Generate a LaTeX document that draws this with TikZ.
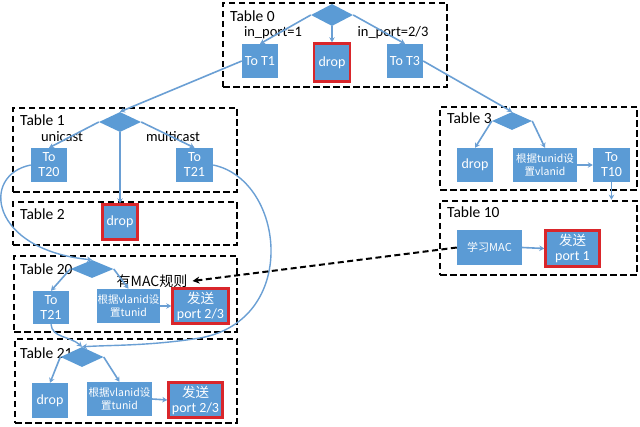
\documentclass[tikz,border=0pt]{standalone}
\usepackage{fontspec}
\setmainfont{Carlito}
\newfontfamily\cjk{Noto Sans CJK SC}
\usetikzlibrary{shapes.geometric,arrows.meta}
\definecolor{bblue}{HTML}{5B9BD5}
\definecolor{lblue}{HTML}{6A9FD4}
\definecolor{rred}{HTML}{D9262B}
\tikzset{
 tbl/.style={draw=black, line width=2.6pt, dash pattern=on 6.5pt off 3.5pt, inner sep=0},
 bx/.style={fill=bblue, text=white, inner sep=0.5pt, align=center, font=\fontsize{14}{15}\selectfont},
 rbx/.style={bx, draw=rred, line width=2.4pt},
 dm/.style={diamond, fill=bblue, inner sep=0, minimum width=42pt, minimum height=20pt},
 conn/.style={draw=lblue, line width=1.6pt, -{Stealth[length=5pt,width=5.5pt]}},
 curv/.style={draw=lblue, line width=1.4pt, -{Stealth[length=5pt,width=5.5pt]}},
 lab/.style={font=\fontsize{14.5}{15}\selectfont, inner sep=0},
 tlab/.style={font=\fontsize{15.5}{16}\selectfont, anchor=west, inner sep=0},
 sm/.style={font=\cjk\fontsize{10.5}{13}\selectfont},
}
\begin{document}
\begin{tikzpicture}[x=1pt,y=-1pt]
\useasboundingbox[fill=white] (0,0) rectangle (640,427);
% ---- tables
\node[tbl, minimum width=224pt, minimum height=84pt] (tab0) at (335,45) {};
\node[tbl, minimum width=224pt, minimum height=84pt] (tab1) at (125,150) {};
\node[tbl, minimum width=224pt, minimum height=43pt] (tab2) at (125,223.5) {};
\node[tbl, minimum width=223pt, minimum height=76pt] (tab20) at (125.5,294) {};
\node[tbl, minimum width=222pt, minimum height=84pt] (tab21) at (126,381) {};
\node[tbl, minimum width=197pt, minimum height=83pt] (tab3) at (538.5,148.5) {};
\node[tbl, minimum width=197pt, minimum height=74pt] (tab10) at (538.5,238) {};
\node[tlab] (l0) at (230,16) {Table 0};
\node[tlab] (l1) at (20,120) {Table 1};
\node[tlab] (l2) at (20,214) {Table 2};
\node[tlab] (l20) at (20,269) {Table 20};
\node[tlab] (l21) at (20,353) {Table 21};
\node[tlab] (l3) at (447,118) {Table 3};
\node[tlab] (l10) at (447,212) {Table 10};
% ---- Table 0
\node[dm, minimum width=42pt, minimum height=22pt] (d0) at (332,15) {};
\node[bx, minimum width=36pt, minimum height=34pt] (t1) at (260,61) {To T1};
\node[rbx, minimum width=36pt, minimum height=38pt] (dr0) at (332,62.5) {drop};
\node[bx, minimum width=36pt, minimum height=34pt] (t3) at (405,61) {To T3};
\node[lab] (ip1) at (273,33) {in\_port=1};
\node[lab] (ip2) at (393,33) {in\_port=2/3};
\draw[conn] (d0.west) -- (t1.north);
\draw[conn] (d0.south) -- (dr0.north);
\draw[conn] (d0.east) -- (t3.north);
% ---- Table 1
\node[dm] (d1) at (120,122) {};
\node[bx, minimum width=36pt, minimum height=34pt] (t20) at (49,165) {To\\T20};
\node[bx, minimum width=37pt, minimum height=34pt] (t21) at (194.5,165) {To\\T21};
\node[lab] (uc) at (62,137) {unicast};
\node[lab] (mc) at (173,137) {multicast};
\draw[conn] (t1.west) -- (d1.north);
\draw[conn] (d1.west) -- (t20.north);
\draw[conn] (d1.east) -- (t21.north);
% ---- Table 2
\node[rbx, minimum width=35pt, minimum height=35pt] (dr2) at (120,222) {drop};
\draw[conn] (d1.south) -- (dr2.north);
% ---- Table 20
\node[dm, minimum width=43pt, minimum height=18pt] (d20) at (92,269) {};
\node[bx, minimum width=36pt, minimum height=33pt] (t21b) at (51,307.5) {To\\T21};
\node[bx, sm, minimum width=63pt, minimum height=34pt] (v20) at (128.5,306) {根据vlanid设\\置tunid};
\node[rbx, minimum width=56pt, minimum height=35pt] (s20) at (200.5,306) {{\cjk\fontsize{13.5}{15}\selectfont 发送}\\port 2/3};
\node[lab, font=\cjk\fontsize{14}{15}\selectfont] (mac) at (152,281) {有MAC规则};
\draw[conn] (d20.west) -- (t21b.north);
\draw[conn] (d20.east) -- (v20.north);
\draw[conn] (v20.east) -- (s20.west);
% ---- Table 21
\node[dm, minimum width=43pt, minimum height=20pt] (d21) at (82,357) {};
\node[bx, minimum width=36pt, minimum height=35pt] (dr21) at (50,400.5) {drop};
\node[bx, sm, minimum width=65pt, minimum height=34pt] (v21) at (119.5,399) {根据vlanid设\\置tunid};
\node[rbx, minimum width=54pt, minimum height=35pt] (s21) at (195.5,400) {{\cjk\fontsize{13.5}{15}\selectfont 发送}\\port 2/3};
\draw[conn] (d21.west) -- (dr21.north);
\draw[conn] (d21.east) -- (v21.north);
\draw[conn] (v21.east) -- (s21.west);
% ---- Table 3
\node[dm, minimum width=40pt, minimum height=18pt] (d3) at (512,121) {};
\node[bx, minimum width=36pt, minimum height=34pt] (dr3) at (475,165) {drop};
\node[bx, sm, minimum width=64pt, minimum height=34pt] (v3) at (545,165) {根据tunid设\\置vlanid};
\node[bx, minimum width=37pt, minimum height=34pt] (t10) at (611.5,165) {To\\T10};
\draw[conn] (t3.east) -- (d3.north);
\draw[conn] (d3.west) -- (dr3.north);
\draw[conn] (d3.east) -- (v3.north);
\draw[conn] (v3.east) -- (t10.west);
\draw[conn, line width=1pt] (t10.south) -- (t10.south |- tab10.north);
% ---- Table 10
\node[bx, font=\cjk\fontsize{11}{13}\selectfont, minimum width=65pt, minimum height=35pt] (learn) at (489.5,247.5) {学习MAC};
\node[rbx, minimum width=54pt, minimum height=36pt] (s10) at (572.5,248.5) {{\cjk\fontsize{13.5}{15}\selectfont 发送}\\port 1};
\draw[conn] (learn.east) -- (s10.west);
% ---- long connectors
\draw[curv] (t20.west) .. controls (-20,175) and (-10,250) .. (d20.north);
\draw[curv] (t21.east) .. controls (285,180) and (300,320) .. (200,338) .. controls (150,346) and (110,345) .. (d21.north);
\draw[curv] (t21b.south) .. controls (52,338) and (70,336) .. (d21.north);
\draw[black, line width=2pt, dash pattern=on 6pt off 3.5pt, -{Stealth[length=7pt,width=7pt]}] (learn.west) -- ([xshift=5pt]mac.east);
\end{tikzpicture}
\end{document}
